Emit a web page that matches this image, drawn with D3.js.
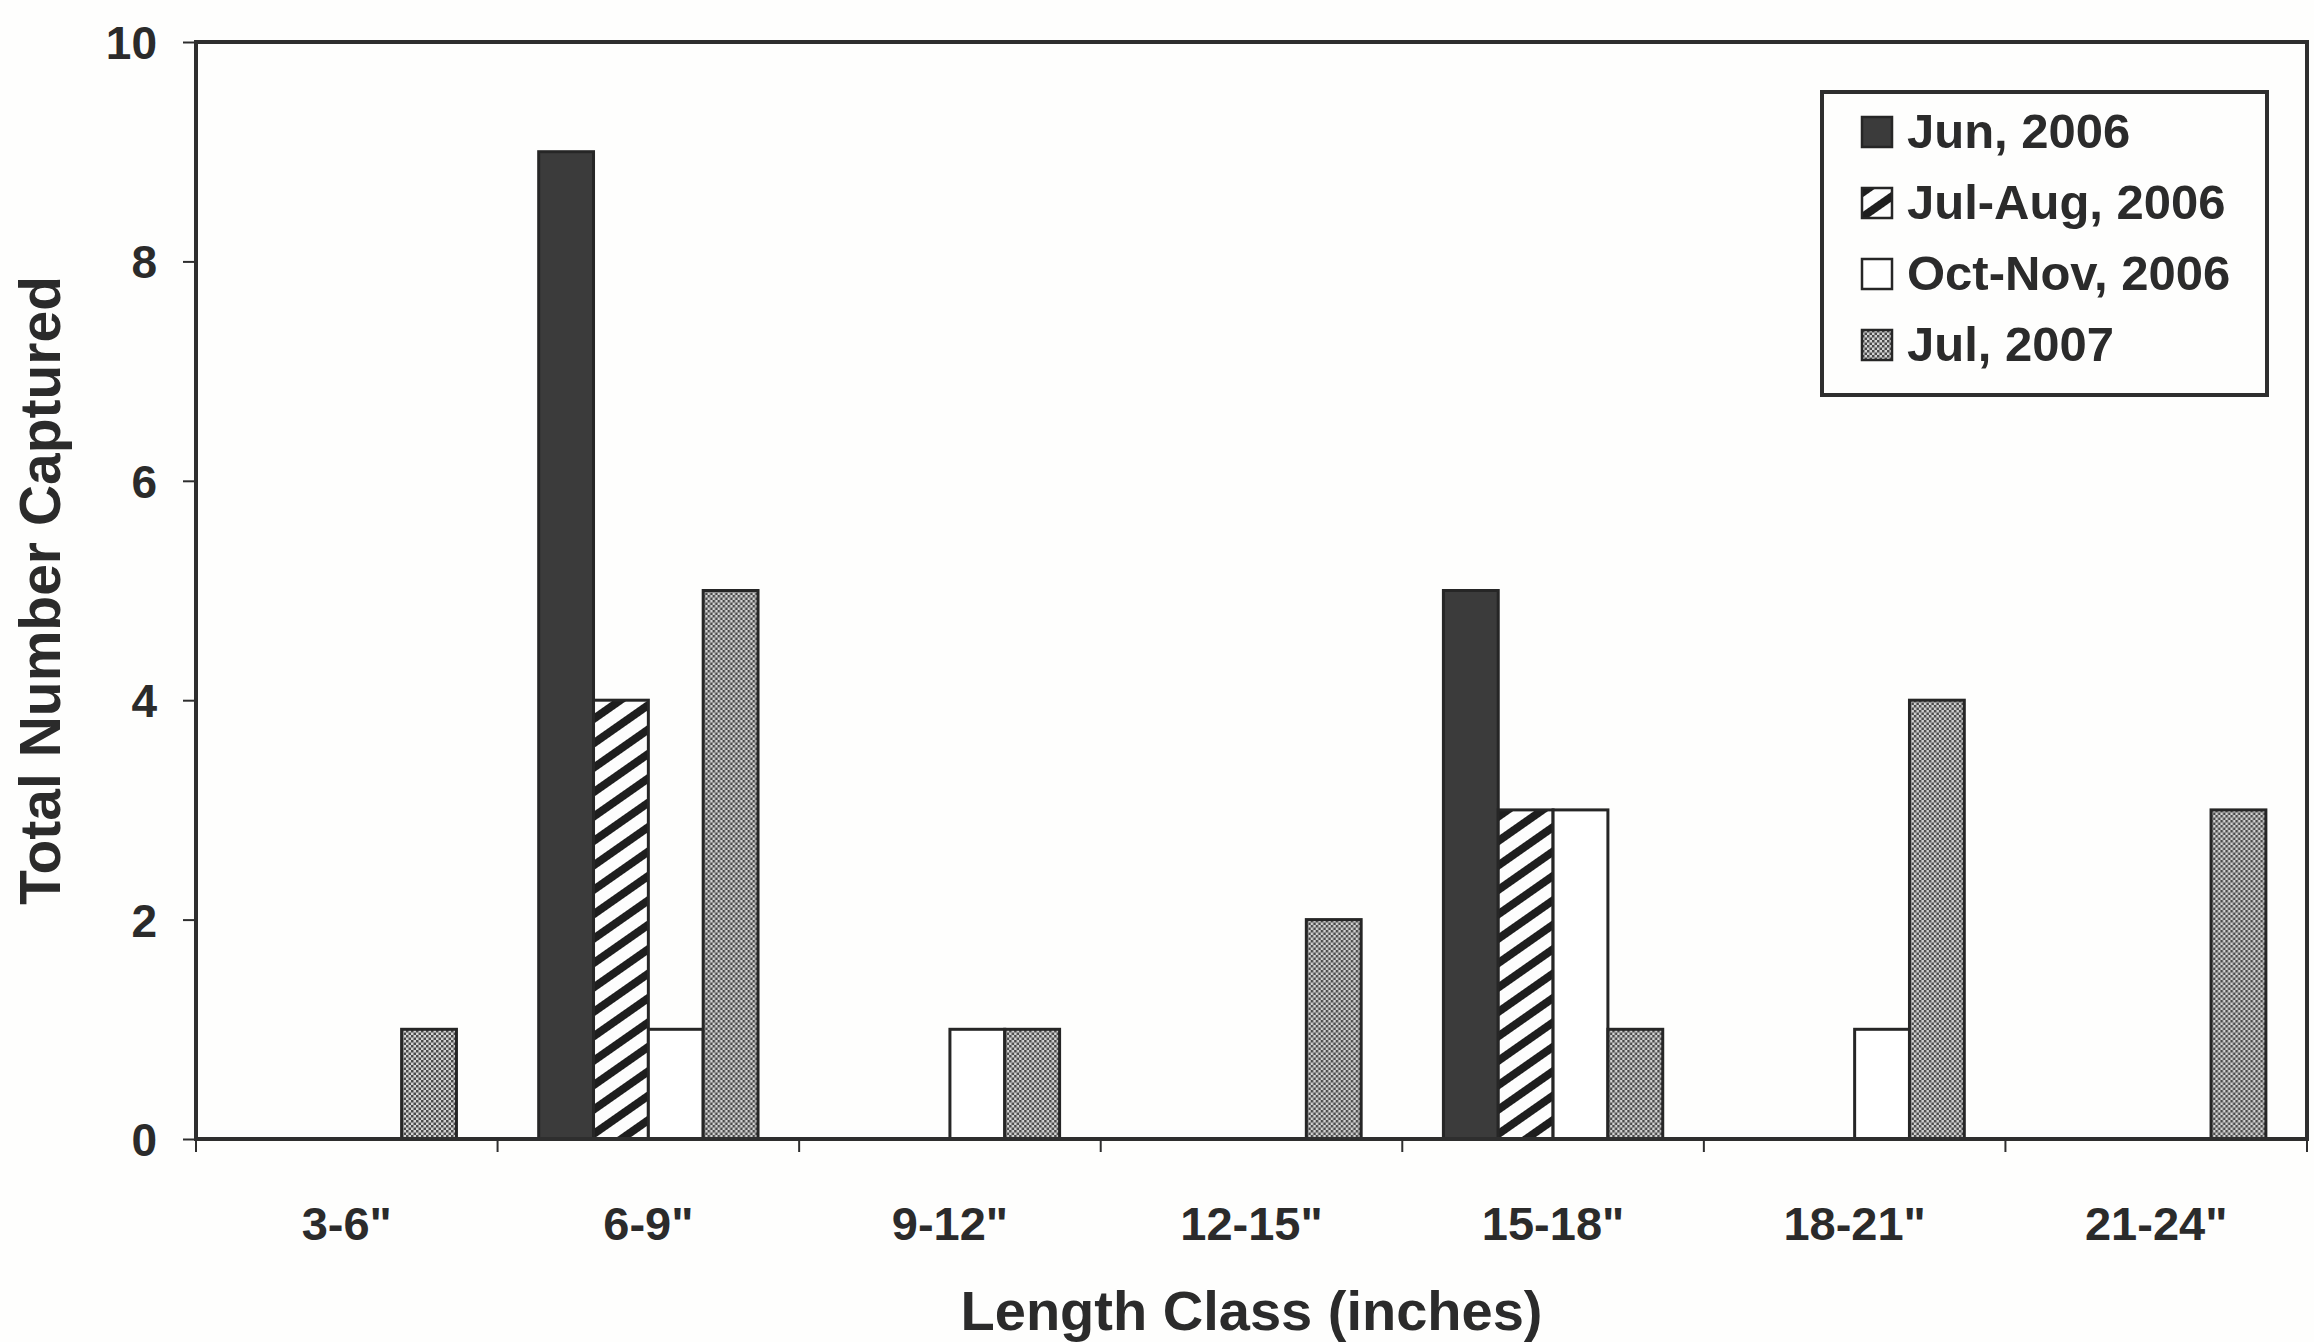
<!DOCTYPE html>
<html>
<head>
<meta charset="utf-8">
<script src="https://cdn.jsdelivr.net/npm/d3@7"></script>
<style>
  body { margin: 0; background: #fefefd; }
  svg { display: block; }
  text { font-family: "Liberation Sans", Arial, sans-serif; font-weight: bold; fill: #2b2b2b; }
</style>
</head>
<body>
<svg width="2314" height="1342"></svg>
<script>
// data
const categories = ['3-6"', '6-9"', '9-12"', '12-15"', '15-18"', '18-21"', '21-24"'];
const seriesNames = ["Jun, 2006", "Jul-Aug, 2006", "Oct-Nov, 2006", "Jul, 2007"];
const jun2006 = [0, 9, 0, 0, 5, 0, 0];
const julAug2006 = [0, 4, 0, 0, 3, 0, 0];
const octNov2006 = [0, 1, 1, 0, 3, 1, 0];
const jul2007 = [1, 5, 1, 2, 1, 4, 3];
const yTicks = [0, 2, 4, 6, 8, 10];

const values = [jun2006, julAug2006, octNov2006, jul2007];

const svg = d3.select("svg");
const plotLeft = 196, plotRight = 2307, plotTop = 42, plotBottom = 1139;

// fills: solid, hatch, white, dotted
const defs = svg.append("defs");
const hatch = defs.append("pattern")
    .attr("id", "hatch")
    .attr("patternUnits", "userSpaceOnUse")
    .attr("width", 10).attr("height", 20)
    .attr("patternTransform", "rotate(-35)");
hatch.append("rect").attr("width", 10).attr("height", 20).attr("fill", "#fdfdfd");
hatch.append("rect").attr("width", 10).attr("height", 8).attr("fill", "#1e1e1e");

const dots = defs.append("pattern")
    .attr("id", "dots")
    .attr("patternUnits", "userSpaceOnUse")
    .attr("width", 5).attr("height", 5);
dots.append("rect").attr("width", 5).attr("height", 5).attr("fill", "#d2d2d2");
dots.append("rect").attr("width", 2.5).attr("height", 2.5).attr("fill", "#4a4a4a");
dots.append("rect").attr("x", 2.5).attr("y", 2.5).attr("width", 2.5).attr("height", 2.5).attr("fill", "#4a4a4a");

const fills = ["#3b3b3b", "url(#hatch)", "#ffffff", "url(#dots)"];

const x0 = d3.scaleBand().domain(categories).range([plotLeft, plotRight]);
const x1 = d3.scaleBand().domain(seriesNames).range([0, x0.bandwidth()])
    .paddingInner(0).paddingOuter(0.75);
const y = d3.scaleLinear().domain([0, 10]).range([plotBottom, plotTop]);

// bars
const groups = svg.append("g").selectAll("g")
    .data(categories)
    .join("g")
    .attr("transform", d => `translate(${x0(d)},0)`);

groups.selectAll("rect")
    .data((c, i) => seriesNames.map((s, k) => ({ s: s, v: values[k][i], k: k })).filter(d => d.v > 0))
    .join("rect")
    .attr("x", d => x1(d.s))
    .attr("y", d => y(d.v))
    .attr("width", x1.bandwidth())
    .attr("height", d => y(0) - y(d.v))
    .attr("fill", d => fills[d.k])
    .attr("stroke", "#262626")
    .attr("stroke-width", 3);

// frame
svg.append("rect")
    .attr("x", plotLeft).attr("y", plotTop)
    .attr("width", plotRight - plotLeft).attr("height", plotBottom - plotTop)
    .attr("fill", "none")
    .attr("stroke", "#2e2e2e")
    .attr("stroke-width", 4);

// y axis
const yAxis = svg.append("g")
    .attr("transform", `translate(${plotLeft},0)`)
    .call(d3.axisLeft(y).tickValues(yTicks).tickSize(13).tickPadding(26));
yAxis.select(".domain").remove();
yAxis.selectAll("line").attr("stroke", "#2e2e2e").attr("stroke-width", 2);
yAxis.selectAll("text")
    .attr("font-size", 46)
    .attr("fill", "#2b2b2b")
    .attr("font-family", "Liberation Sans, Arial, sans-serif")
    .attr("dy", "0.36em");

// x axis labels and boundary ticks
const xAxis = svg.append("g")
    .attr("transform", `translate(0,${plotBottom})`)
    .call(d3.axisBottom(x0).tickSize(0).tickPadding(68));
xAxis.select(".domain").remove();
xAxis.selectAll("text")
    .attr("font-size", 47)
    .attr("fill", "#2b2b2b")
    .attr("font-family", "Liberation Sans, Arial, sans-serif");

svg.append("g").selectAll("line")
    .data(categories.map(c => x0(c)).concat([plotRight]))
    .join("line")
    .attr("x1", d => d).attr("x2", d => d)
    .attr("y1", plotBottom).attr("y2", plotBottom + 13)
    .attr("stroke", "#2e2e2e")
    .attr("stroke-width", 2);

// axis titles
svg.append("text")
    .attr("x", (plotLeft + plotRight) / 2)
    .attr("y", 1330)
    .attr("text-anchor", "middle")
    .attr("font-size", 56)
    .text("Length Class (inches)");

svg.append("text")
    .attr("transform", `translate(60,${(plotTop + plotBottom) / 2}) rotate(-90)`)
    .attr("text-anchor", "middle")
    .attr("font-size", 57)
    .text("Total Number Captured");

// legend
const legend = svg.append("g");
legend.append("rect")
    .attr("x", 1822).attr("y", 92)
    .attr("width", 445).attr("height", 303)
    .attr("fill", "#fefefd")
    .attr("stroke", "#2e2e2e")
    .attr("stroke-width", 4);

const items = legend.selectAll("g.item")
    .data(seriesNames)
    .join("g")
    .attr("class", "item")
    .attr("transform", (d, i) => `translate(1862,${117 + i * 71})`);

items.append("rect")
    .attr("width", 30).attr("height", 30)
    .attr("fill", (d, i) => fills[i])
    .attr("stroke", "#262626")
    .attr("stroke-width", 2.5);

items.append("text")
    .attr("x", 45)
    .attr("y", 31)
    .attr("font-size", 49)
    .text(d => d);
</script>
</body>
</html>
